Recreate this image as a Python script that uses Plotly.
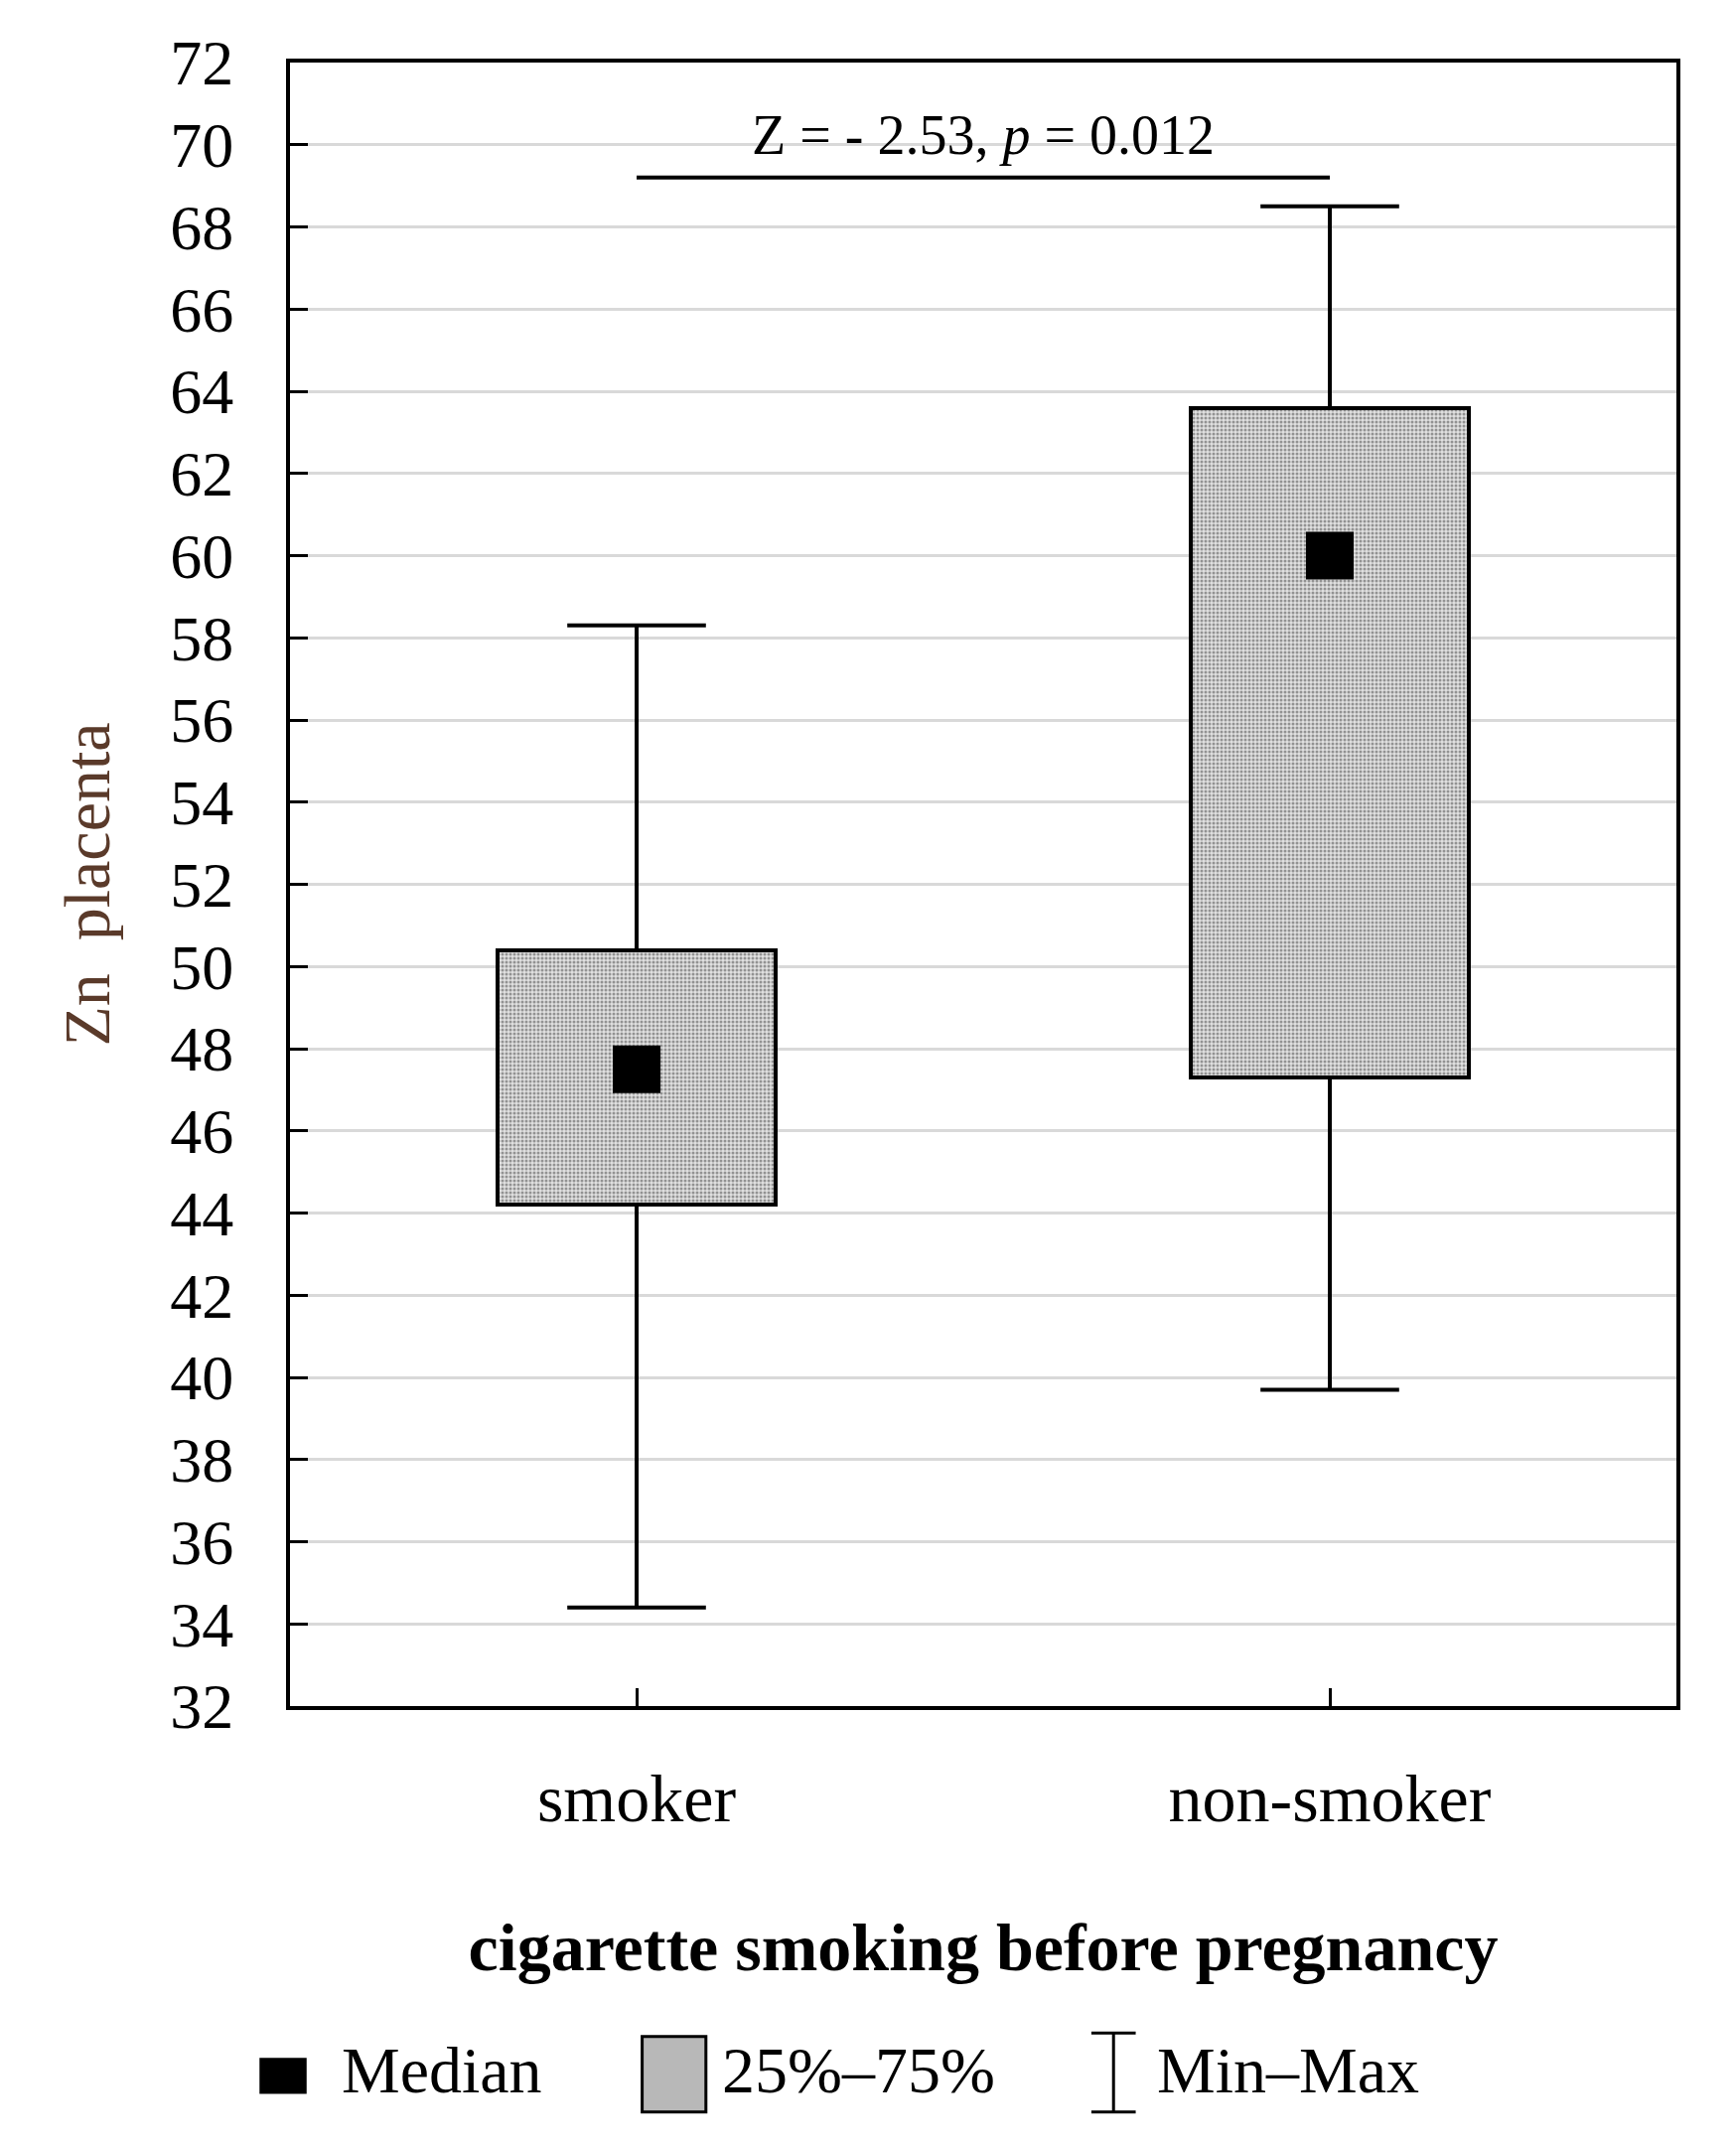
import plotly.graph_objects as go

categories = ["smoker", "non-smoker"]
mins = [34.4, 39.7]
q1s = [44.2, 47.3]
medians = [47.5, 60.0]
q3s = [50.4, 63.6]
maxs = [58.3, 68.5]
yticks = list(range(32, 73, 2))
stat_text = "Z = - 2.53, <i>p</i> = 0.012"
stat_y = 69.2

F = "Liberation Serif"
xs = [0, 1]
fig = go.Figure()
for i, x in enumerate(xs):
    fig.add_trace(go.Scatter(x=[x, x, None, x, x, None, x-0.1, x+0.1, None, x-0.1, x+0.1],
                             y=[mins[i], q1s[i], None, q3s[i], maxs[i], None, mins[i], mins[i], None, maxs[i], maxs[i]],
                             mode="lines", line=dict(color="black", width=4), showlegend=False, hoverinfo="skip"))
fig.add_trace(go.Bar(x=xs, y=[q3s[i]-q1s[i] for i in range(2)], base=q1s, width=0.4,
                     marker=dict(color="#d0d0d0", line=dict(color="black", width=4),
                                 pattern=dict(shape=".", fgcolor="#444444", bgcolor="#e0e0e0", size=4, solidity=0.45, fillmode="overlay")),
                     showlegend=False))
fig.add_trace(go.Scatter(x=xs, y=medians, mode="markers",
                         marker=dict(symbol="square", size=48, color="black"), showlegend=False))
fig.add_trace(go.Scatter(x=[0, 1], y=[stat_y, stat_y], mode="lines", line=dict(color="black", width=4), showlegend=False))
fig.add_annotation(x=0.5, y=stat_y, yshift=10, text=stat_text, showarrow=False, yanchor="bottom",
                   font=dict(family=F, size=56, color="black"))

LY = -0.245
fig.add_shape(type="rect", xref="paper", yref="paper", x0=-0.022, x1=0.012, y0=-0.214, y1=-0.236, fillcolor="black", line_width=0)
fig.add_annotation(xref="paper", yref="paper", x=0.036, y=LY, text="Median", showarrow=False, xanchor="left",
                   font=dict(family=F, size=66, color="black"))
fig.add_shape(type="rect", xref="paper", yref="paper", x0=0.254, x1=0.3, y0=-0.201, y1=-0.247, fillcolor="#b8b8b8", line=dict(color="black", width=3))
fig.add_annotation(xref="paper", yref="paper", x=0.31, y=LY, text="25%–75%", showarrow=False, xanchor="left",
                   font=dict(family=F, size=66, color="black"))
fig.add_shape(type="line", xref="paper", yref="paper", x0=0.594, x1=0.594, y0=-0.199, y1=-0.247, line=dict(color="black", width=3))
fig.add_shape(type="line", xref="paper", yref="paper", x0=0.578, x1=0.61, y0=-0.199, y1=-0.199, line=dict(color="black", width=3))
fig.add_shape(type="line", xref="paper", yref="paper", x0=0.578, x1=0.61, y0=-0.247, y1=-0.247, line=dict(color="black", width=3))
fig.add_annotation(xref="paper", yref="paper", x=0.624, y=LY, text="Min–Max", showarrow=False, xanchor="left",
                   font=dict(family=F, size=66, color="black"))

fig.update_layout(
    width=1748, height=2160, plot_bgcolor="white", paper_bgcolor="white",
    margin=dict(l=284, r=68, t=55, b=450), bargap=0,
    xaxis=dict(range=[-0.5, 1.5], tickvals=xs, ticktext=categories, ticks="inside", ticklen=18, tickwidth=3,
               tickcolor="black", showline=True, linecolor="black", linewidth=4, mirror=True, showgrid=False,
               tickfont=dict(family=F, size=68, color="black"), ticklabelstandoff=30,
               title=dict(text="<b>cigarette smoking before pregnancy</b>", font=dict(family=F, size=68, color="black"), standoff=90)),
    yaxis=dict(range=[32, 72], tickvals=yticks, ticks="inside", ticklen=18, tickwidth=3, tickcolor="black",
               showline=True, linecolor="black", linewidth=4, mirror=True, showgrid=True, gridcolor="#d9d9d9", gridwidth=3,
               zeroline=False, tickfont=dict(family=F, size=64, color="black"), ticklabelstandoff=40,
               title=dict(text="Zn  placenta", font=dict(family=F, size=66, color="#5a3a2a"), standoff=40)),
)
fig.write_html("out.html")
